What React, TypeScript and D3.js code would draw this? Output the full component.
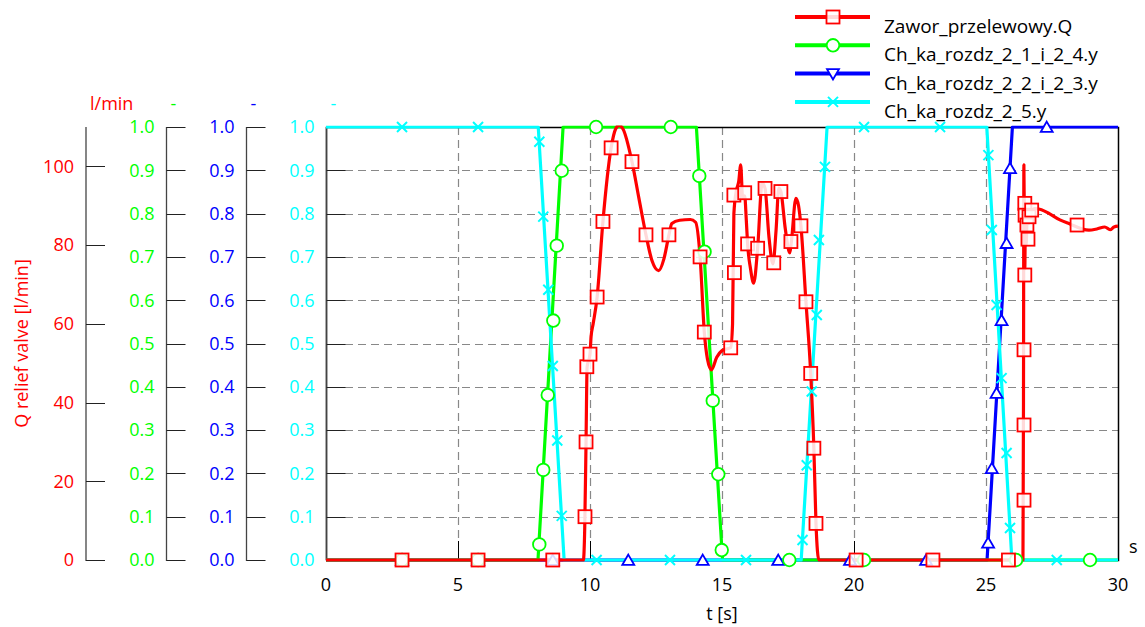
import React, { useRef, useEffect } from "react";
import * as d3 from "d3";

type Pt = [number, number];

// Zawor_przelewowy.Q  [l/min]  (t [s], Q)
const zaworQ: Pt[] = [
  [0, 0], [9.75, 0], [9.8, 8], [9.85, 30], [9.89, 49], [10.0, 52.3], [10.04, 56.7], [10.12, 60],
  [10.27, 66.8], [10.49, 86], [10.8, 104.7], [10.97, 109.5], [11.1, 110.4], [11.25, 109.5],
  [11.59, 101.2], [11.85, 92], [12.12, 82.6], [12.35, 76], [12.6, 73.5], [12.8, 76.5],
  [12.99, 82.6], [13.1, 85.5], [13.4, 86.3], [13.8, 86.5], [14.0, 85.8], [14.17, 77],
  [14.33, 57.9], [14.45, 51], [14.6, 48.3], [14.8, 51.5], [15.0, 53.2], [15.33, 54],
  [15.4, 60], [15.45, 88], [15.55, 94], [15.63, 96], [15.71, 100.4], [15.78, 92],
  [15.86, 92.5], [15.92, 86.4], [15.97, 80.3], [16.08, 74], [16.2, 70.3], [16.35, 79.2],
  [16.52, 95.8], [16.63, 94.4], [16.78, 82], [16.93, 75.2], [17.05, 84], [17.15, 94.5],
  [17.23, 93.6], [17.4, 84], [17.57, 78], [17.63, 81], [17.8, 91.9], [17.9, 90],
  [17.99, 84.9], [18.18, 65.6], [18.36, 47.4], [18.48, 28.4], [18.56, 9.3], [18.67, 0],
  [26.4, 0], [26.42, 40], [26.435, 100.4], [26.45, 88], [26.47, 74], [26.49, 86],
  [26.52, 80], [26.56, 87], [26.62, 85.5], [26.72, 88.5], [26.85, 89.3], [27.1, 89],
  [27.4, 88], [27.8, 86.4], [28.2, 85.3], [28.6, 84.2], [28.9, 83.8], [29.2, 84.1],
  [29.5, 84.6], [29.7, 83.9], [29.85, 84.6], [30, 84.8],
];
const zaworMarkers: Pt[] = [
  [2.88, 0], [5.76, 0], [8.59, 0], [9.81, 11], [9.85, 30], [9.88, 49.1], [10.0, 52.3],
  [10.27, 66.8], [10.49, 86], [10.8, 104.7], [11.59, 101.2], [12.12, 82.6], [12.99, 82.6],
  [14.17, 77], [14.33, 57.9], [15.33, 53.9], [15.47, 73], [15.45, 92.7], [15.86, 93.3],
  [15.97, 80.3], [16.35, 79.2], [16.63, 94.4], [16.96, 75.5], [17.23, 93.6], [17.61, 80.9],
  [17.99, 84.9], [18.18, 65.6], [18.36, 47.4], [18.48, 28.4], [18.56, 9.3], [20.08, 0],
  [22.99, 0], [25.85, 0], [26.44, 15.2], [26.44, 34.3], [26.44, 53.4], [26.47, 72.4],
  [26.47, 90.6], [26.48, 87.6], [26.55, 85.1], [26.59, 81.5], [26.63, 87.2], [26.73, 88.9],
  [28.45, 85.1],
];

// Ch_ka_rozdz_2_1_i_2_4.y
const ch24: Pt[] = [[0, 0], [8.03, 0], [8.98, 1], [14.03, 1], [15.02, 0], [30, 0]];
const ch24Markers: Pt[] = [
  [2.88, 0], [5.76, 0], [8.08, 0.036], [8.23, 0.208], [8.4, 0.381], [8.61, 0.553],
  [8.74, 0.726], [8.93, 0.899], [10.23, 1], [13.06, 1], [14.14, 0.887], [14.34, 0.712],
  [14.65, 0.368], [14.86, 0.198], [14.99, 0.023], [17.55, 0], [20.38, 0], [26.14, 0], [28.94, 0],
];

// Ch_ka_rozdz_2_2_i_2_3.y
const ch23: Pt[] = [[0, 0], [25.04, 0], [26.0, 1], [30, 1]];
const ch23Markers: Pt[] = [
  [2.88, 0], [5.76, 0], [8.59, 0], [11.45, 0], [14.27, 0], [17.13, 0], [19.85, 0], [22.73, 0],
  [25.08, 0.04], [25.22, 0.212], [25.4, 0.386], [25.59, 0.554], [25.78, 0.732], [25.91, 0.905],
  [27.3, 1],
];

// Ch_ka_rozdz_2_5.y
const ch25: Pt[] = [[0, 1], [8.04, 1], [9.02, 0], [18.0, 0], [18.98, 1], [25.03, 1], [25.98, 0], [30, 0]];
const ch25Markers: Pt[] = [
  [2.88, 1], [5.76, 1], [8.08, 0.966], [8.23, 0.793], [8.42, 0.624], [8.59, 0.448],
  [8.76, 0.276], [8.93, 0.102], [10.25, 0], [13.03, 0], [15.91, 0], [18.05, 0.046],
  [18.21, 0.219], [18.4, 0.389], [18.59, 0.566], [18.67, 0.739], [18.9, 0.908], [20.38, 1],
  [23.26, 1], [25.09, 0.935], [25.22, 0.762], [25.4, 0.589], [25.59, 0.42], [25.78, 0.247],
  [25.91, 0.074], [27.68, 0],
];

const qTicks = [0, 20, 40, 60, 80, 100];
const fracTicks = [0, 0.1, 0.2, 0.3, 0.4, 0.5, 0.6, 0.7, 0.8, 0.9, 1.0];
const timeTicks = [0, 5, 10, 15, 20, 25, 30];

const RED = "#ff0000";
const GREEN = "#00ff00";
const BLUE = "#0000ff";
const CYAN = "#00ffff";
const FONT = "'Open Sans', 'Noto Sans', sans-serif";

const App = () => {
  const svgRef = useRef<SVGSVGElement | null>(null);

  useEffect(() => {
    if (!svgRef.current) return;
    const svg = d3.select(svgRef.current);
    svg.selectAll("*").remove();

    const left = 326, right = 1118, top = 127, bottom = 560;
    const x = d3.scaleLinear().domain([0, 30]).range([left, right]);
    const y = d3.scaleLinear().domain([0, 1]).range([bottom, top]);
    const yQ = d3.scaleLinear().domain([0, 110]).range([bottom, top]);

    // grid
    const grid = svg.append("g").attr("stroke", "#888").attr("stroke-width", 1.2)
      .attr("stroke-dasharray", "8,5");
    fracTicks.slice(1, -1).forEach(v => {
      grid.append("line").attr("x1", left + 19).attr("x2", right)
        .attr("y1", Math.round(y(v)) + 0.5).attr("y2", Math.round(y(v)) + 0.5);
    });
    timeTicks.slice(1, -1).forEach(t => {
      grid.append("line").attr("x1", Math.round(x(t)) + 0.5).attr("x2", Math.round(x(t)) + 0.5)
        .attr("y1", top).attr("y2", bottom - 19);
    });

    // frame
    svg.append("path")
      .attr("d", `M${left + 0.5},${bottom}V${top + 0.5}H${right + 0.5}V${bottom + 0.5}H${left}`)
      .attr("fill", "none").attr("stroke", "#000").attr("stroke-width", 1.5);

    // x ticks (inward)
    timeTicks.forEach(t => {
      svg.append("line").attr("x1", Math.round(x(t)) + 0.5).attr("x2", Math.round(x(t)) + 0.5)
        .attr("y1", bottom).attr("y2", bottom - 19).attr("stroke", "#000");
      svg.append("text").attr("x", x(t)).attr("y", 591).attr("text-anchor", "middle")
        .style("font-family", FONT).style("font-size", "18px").attr("fill", "#000").text(t);
    });
    svg.append("text").attr("x", x(15)).attr("y", 620).attr("text-anchor", "middle")
      .style("font-family", FONT).style("font-size", "18px").text("t [s]");
    svg.append("text").attr("x", 1129).attr("y", 553)
      .style("font-family", FONT).style("font-size", "18px").text("s");

    // y axes
    const axes = [
      { ax: 86, color: RED, scale: yQ, ticks: qTicks, fmt: (d: number) => String(d), unit: "l/min" },
      { ax: 166.5, color: GREEN, scale: y, ticks: fracTicks, fmt: d3.format(".1f"), unit: "-" },
      { ax: 246.5, color: BLUE, scale: y, ticks: fracTicks, fmt: d3.format(".1f"), unit: "-" },
      { ax: 326.5, color: CYAN, scale: y, ticks: fracTicks, fmt: d3.format(".1f"), unit: "-" },
    ];
    axes.forEach(a => {
      const g = svg.append("g");
      g.append("line").attr("x1", a.ax).attr("x2", a.ax).attr("y1", top).attr("y2", bottom + 1)
        .attr("stroke", "#444").attr("stroke-width", 1.3);
      a.ticks.forEach(v => {
        const py = Math.round(a.scale(v)) + 0.5;
        g.append("line").attr("x1", a.ax).attr("x2", a.ax + 19).attr("y1", py).attr("y2", py)
          .attr("stroke", "#222");
        g.append("text").attr("x", a.ax - 12).attr("y", a.scale(v)).attr("dy", "0.35em")
          .attr("text-anchor", "end").attr("fill", a.color)
          .style("font-family", FONT).style("font-size", "18px").text(a.fmt(v));
      });
      g.append("text").attr("x", a.ax + 4).attr("y", 110).attr("fill", a.color)
        .style("font-family", FONT).style("font-size", "18px").text(a.unit);
    });
    svg.append("text")
      .attr("transform", `translate(28,${(top + bottom) / 2}) rotate(-90)`)
      .attr("text-anchor", "middle").attr("fill", RED)
      .style("font-family", FONT).style("font-size", "18px").text("Q relief valve [l/min]");

    // markers
    const drawMarker = (g: any, kind: string, color: string, px: number, py: number, flip = false) => {
      if (kind === "square") {
        g.append("rect").attr("x", px - 6.5).attr("y", py - 6.5).attr("width", 13).attr("height", 13)
          .attr("fill", "#fff").attr("fill-opacity", 0.85).attr("stroke", color).attr("stroke-width", 1.8);
      } else if (kind === "circle") {
        g.append("circle").attr("cx", px).attr("cy", py).attr("r", 6.3)
          .attr("fill", "#fff").attr("stroke", color).attr("stroke-width", 1.8);
      } else if (kind === "triangle") {
        g.append("path").attr("d", d3.symbol().type(d3.symbolTriangle).size(62)())
          .attr("transform", `translate(${px},${py + (flip ? -1 : 1.5)})${flip ? " rotate(180)" : ""}`)
          .attr("fill", "#fff").attr("stroke", color).attr("stroke-width", 1.8);
      } else {
        g.append("path").attr("d", "M-5,-5L5,5M-5,5L5,-5")
          .attr("transform", `translate(${px},${py})`)
          .attr("fill", "none").attr("stroke", color).attr("stroke-width", 2);
      }
    };

    const clipId = "plot-clip";
    svg.append("defs").append("clipPath").attr("id", clipId).append("rect")
      .attr("x", left - 5).attr("y", top - 1.5).attr("width", right - left + 10).attr("height", bottom - top + 10);

    const series = [
      { name: "Ch_ka_rozdz_2_2_i_2_3.y", data: ch23, markers: ch23Markers, color: BLUE, kind: "triangle", sc: y, curve: d3.curveLinear },
      { name: "Ch_ka_rozdz_2_1_i_2_4.y", data: ch24, markers: ch24Markers, color: GREEN, kind: "circle", sc: y, curve: d3.curveLinear },
      { name: "Ch_ka_rozdz_2_5.y", data: ch25, markers: ch25Markers, color: CYAN, kind: "cross", sc: y, curve: d3.curveLinear },
      { name: "Zawor_przelewowy.Q", data: zaworQ, markers: zaworMarkers, color: RED, kind: "square", sc: yQ, curve: d3.curveMonotoneX },
    ];

    const plot = svg.append("g").attr("clip-path", `url(#${clipId})`);
    series.forEach(s => {
      const line = d3.line<Pt>().x(d => x(d[0])).y(d => s.sc(d[1])).curve(s.curve);
      plot.append("path").datum(s.data).attr("d", line).attr("fill", "none")
        .attr("stroke", s.color).attr("stroke-width", 3.2).attr("stroke-linejoin", "round");
    });
    series.forEach(s => {
      const g = svg.append("g");
      s.markers.forEach(m => drawMarker(g, s.kind, s.color, x(m[0]), s.sc(m[1])));
    });

    // legend
    const legendOrder = [series[3], series[1], series[0], series[2]];
    legendOrder.forEach((s, i) => {
      const ly = 17 + i * 28.3;
      const g = svg.append("g");
      g.append("line").attr("x1", 795).attr("x2", 870).attr("y1", ly).attr("y2", ly)
        .attr("stroke", s.color).attr("stroke-width", 4);
      drawMarker(g, s.kind, s.color, 833, ly, s.kind === "triangle");
      g.append("text").attr("x", 884).attr("y", ly + 16)
        .style("font-family", FONT).style("font-size", "19px").attr("fill", "#000").text(s.name);
    });
  }, []);

  return (
    <div style={{ position: "absolute", left: 0, top: 0 }}>
      <svg ref={svgRef} width={1145} height={627} style={{ display: "block", background: "#fff" }}></svg>
    </div>
  );
};

export default App;
